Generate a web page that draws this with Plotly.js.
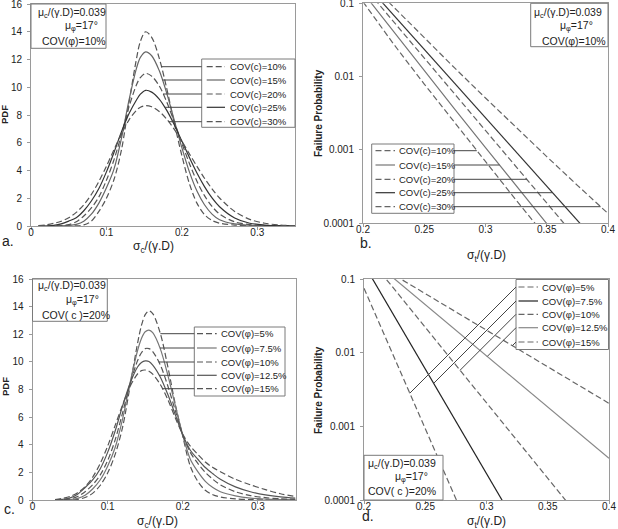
<!DOCTYPE html>
<html>
<head>
<meta charset="utf-8">
<script src="https://cdn.plot.ly/plotly-3.0.1.min.js"></script>
<style>
  html, body { margin: 0; padding: 0; background: #fff; }
  #chart { width: 618px; height: 529px; }
</style>
</head>
<body>
<div id="chart"></div>
<script>
// ---------------- data ----------------
// (a) PDF of sigma_c/(gamma.D) for several COV(c)
const sigmaCA = [0.01,0.02,0.03,0.04,0.05,0.06,0.07,0.08,0.09,0.10,0.11,0.12,0.13,0.14,0.145,0.152,0.16,0.17,0.18,0.19,0.20,0.21,0.22,0.23,0.24,0.25,0.27,0.29,0.31,0.33,0.35];
const pdfCovC10 = [0,0,0,0,0,0.01,0.08,0.35,1.05,2.0,3.35,5.5,8.9,12.1,13.3,14.0,13.6,12.1,9.9,7.4,5.08,3.05,1.65,0.82,0.4,0.2,0.07,0.03,0.01,0,0];
const pdfCovC15 = [0,0,0,0.01,0.04,0.12,0.35,0.85,1.65,2.75,4.1,6.34,9.09,11.4,12.15,12.55,12.27,11.2,9.56,7.61,5.65,3.9,2.52,1.53,0.86,0.45,0.15,0.05,0.02,0,0];
const pdfCovC20 = [0,0,0,0.03,0.1,0.3,0.72,1.3,2.1,3.3,4.77,6.6,8.6,10.2,10.7,11.0,10.8,10.1,8.93,7.5,5.96,4.51,3.22,2.19,1.41,0.86,0.3,0.1,0.03,0.01,0];
const pdfCovC25 = [0,0,0.05,0.15,0.35,0.6,1.1,1.8,2.7,3.9,5.3,6.8,8.1,9.1,9.5,9.78,9.65,9.15,8.33,7.29,6.12,4.94,3.82,2.84,2.02,1.39,0.58,0.2,0.07,0.02,0.01];
const pdfCovC30 = [0.03,0.08,0.19,0.34,0.59,0.98,1.53,2.27,3.21,4.31,5.5,6.66,7.65,8.35,8.56,8.67,8.59,8.25,7.7,6.96,6.11,5.2,4.3,3.44,2.68,2.02,1.05,0.48,0.2,0.07,0.025];
const labelsCovC = ["COV(c)=10%","COV(c)=15%","COV(c)=20%","COV(c)=25%","COV(c)=30%"];

// (b) failure probability vs sigma_t/(gamma.D) for several COV(c)
const sigmaT = [0.2,0.225,0.25,0.275,0.3,0.325,0.35,0.375,0.4];
const pfCovC10 = [0.105,0.0277,0.0079,0.00232,6.87e-4,2.05e-4,6.3e-5,1.9e-5,5.8e-6];
const pfCovC15 = [0.14,0.0407,0.012,0.00357,0.00107,3.24e-4,9.8e-5,2.96e-5,9.0e-6];
const pfCovC20 = [0.175,0.0558,0.0179,0.00571,0.00183,5.85e-4,1.88e-4,6.0e-5,1.95e-5];
const pfCovC25 = [0.202,0.0687,0.0234,0.0080,0.00273,9.3e-4,3.18e-4,1.08e-4,3.7e-5];
const pfCovC30 = [0.233,0.0883,0.0337,0.0130,0.00509,0.00201,8.07e-4,3.27e-4,1.35e-4];

// (c) PDF of sigma_c/(gamma.D) for several COV(phi)
const sigmaCC = [0.03,0.04,0.05,0.06,0.07,0.08,0.09,0.10,0.11,0.12,0.13,0.14,0.145,0.15,0.155,0.16,0.17,0.18,0.19,0.20,0.21,0.22,0.23,0.24,0.25,0.27,0.29,0.31,0.33,0.35];
const pdfCovPhi5   = [0,0,0.01,0.05,0.18,0.48,1.05,1.95,3.3,5.3,8.3,11.4,12.64,13.42,13.69,13.5,12.08,9.68,6.93,4.6,2.45,1.35,0.7,0.38,0.22,0.08,0.03,0.01,0,0];
const pdfCovPhi7_5 = [0,0.005,0.03,0.12,0.35,0.8,1.45,2.45,3.8,5.89,8.53,10.86,11.7,12.18,12.3,12.11,10.96,9.06,6.85,4.7,2.95,2.05,1.35,0.9,0.6,0.3,0.14,0.07,0.035,0.02];
const pdfCovPhi10  = [0,0.02,0.08,0.25,0.6,1.1,1.8,2.85,4.35,6.34,8.43,10.12,10.66,10.96,10.96,10.75,9.79,8.27,6.48,4.7,3.45,2.65,2.0,1.5,1.1,0.6,0.32,0.17,0.09,0.05];
const pdfCovPhi12_5= [0.01,0.05,0.15,0.42,0.9,1.45,2.25,3.45,5.0,6.83,8.47,9.65,9.96,10.07,10.03,9.77,8.91,7.65,6.18,4.7,3.6,2.95,2.35,1.9,1.5,0.95,0.6,0.37,0.22,0.13];
const pdfCovPhi15  = [0.03,0.12,0.26,0.53,0.96,1.65,2.63,3.9,5.4,6.9,8.24,9.14,9.37,9.41,9.32,9.11,8.37,7.28,5.95,4.75,3.9,3.3,2.75,2.35,2.05,1.5,1.1,0.75,0.45,0.25];
const labelsCovPhi = ["COV(φ)=5%","COV(φ)=7.5%","COV(φ)=10%","COV(φ)=12.5%","COV(φ)=15%"];

// (d) failure probability vs sigma_t/(gamma.D) for several COV(phi)
const pfCovPhi5   = [0.075,0.00838,9.33e-4,1.05e-4,1.17e-5,1.3e-6,1.4e-7,1.6e-8,1.8e-9];
const pfCovPhi7_5 = [0.158,0.0308,0.00601,0.001172,2.29e-4,4.46e-5,8.7e-6,1.7e-6,3.3e-7];
const pfCovPhi10  = [0.234,0.0718,0.02208,0.00678,0.002085,6.4e-4,1.968e-4,6.04e-5,1.86e-5];
const pfCovPhi12_5= [0.2226,0.1,0.0449,0.02018,0.00907,0.00407,0.00183,8.22e-4,3.69e-4];
const pfCovPhi15  = [0.1986,0.1122,0.0633,0.0357,0.0202,0.0114,0.00643,0.00363,0.00205];

const logTickVals = [0.0001,0.001,0.01,0.1];
const logTickText = ["0.0001","0.001","0.01","0.1"];

// ---------------- geometry (pixels of the 618x529 page) ----------------
const W = 618, H = 529;
const FONT = 'Liberation Sans, Arial, sans-serif';
const P = {
  a: {xa:'x',  ya:'y',  px:[31,295],   py:[4,226],   xr:[0,0.35],  yr:[0,16],  log:false},
  b: {xa:'x2', ya:'y2', px:[363,608],  py:[3.3,223], xr:[0.2,0.4], yr:[-4,-1], log:true},
  c: {xa:'x3', ya:'y3', px:[32.5,295.5], py:[279,500], xr:[0,0.35], yr:[0,16], log:false},
  d: {xa:'x4', ya:'y4', px:[364,609],  py:[279,500], xr:[0.2,0.4], yr:[-4,-1], log:true}
};
const fx = p => p / W;
const fy = p => 1 - p / H;
function dataToPx(Q, x, y) {
  const xx = Q.px[0] + (x - Q.xr[0]) / (Q.xr[1] - Q.xr[0]) * (Q.px[1] - Q.px[0]);
  const v = Q.log ? Math.log10(y) : y;
  const yy = Q.py[1] - (v - Q.yr[0]) / (Q.yr[1] - Q.yr[0]) * (Q.py[1] - Q.py[0]);
  return [xx, yy];
}
function pxToData(Q, px, py) {
  const x = Q.xr[0] + (px - Q.px[0]) / (Q.px[1] - Q.px[0]) * (Q.xr[1] - Q.xr[0]);
  const v = Q.yr[0] + (Q.py[1] - py) / (Q.py[1] - Q.py[0]) * (Q.yr[1] - Q.yr[0]);
  return [x, Q.log ? Math.pow(10, v) : v];
}
// x where a PDF curve comes down through level y on its right flank
function rightFlankX(xs, ys, level) {
  const k = ys.indexOf(Math.max(...ys));
  for (let i = k; i < ys.length - 1; i++) {
    if (ys[i] >= level && ys[i + 1] < level)
      return xs[i] + (ys[i] - level) / (ys[i] - ys[i + 1]) * (xs[i + 1] - xs[i]);
  }
  return xs[k];
}
// x where a probability curve crosses level y (log interpolation)
function logCrossX(xs, ys, level) {
  const t = Math.log10(level);
  for (let i = 0; i < ys.length - 1; i++) {
    const a = Math.log10(ys[i]), b = Math.log10(ys[i + 1]);
    if (a >= t && b < t) return xs[i] + (a - t) / (a - b) * (xs[i + 1] - xs[i]);
  }
  return xs[xs.length - 1];
}
function logAt(xs, ys, x) {
  for (let i = 0; i < xs.length - 1; i++) {
    if (x >= xs[i] && x <= xs[i + 1]) {
      const a = Math.log10(ys[i]), b = Math.log10(ys[i + 1]);
      return Math.pow(10, a + (x - xs[i]) / (xs[i + 1] - xs[i]) * (b - a));
    }
  }
  return ys[0];
}

// ---------------- styles ----------------
const DASH = '6px,3px';
const stylesA = [
  {color:'#555', dash:DASH}, {color:'#666', dash:'solid'}, {color:'#555', dash:DASH},
  {color:'#333', dash:'solid'}, {color:'#555', dash:DASH}];
const stylesB = [
  {color:'#666', dash:DASH}, {color:'#777', dash:'solid'}, {color:'#666', dash:DASH},
  {color:'#333', dash:'solid'}, {color:'#666', dash:DASH}];
const stylesC = [
  {color:'#555', dash:DASH}, {color:'#777', dash:'solid'}, {color:'#555', dash:DASH},
  {color:'#555', dash:'solid'}, {color:'#555', dash:DASH}];
const stylesD = [
  {color:'#666', dash:DASH}, {color:'#222', dash:'solid'}, {color:'#666', dash:DASH},
  {color:'#888', dash:'solid'}, {color:'#666', dash:DASH}];

// ---------------- traces ----------------
const traces = [];
function addCurves(Q, xs, series, styles, shape) {
  series.forEach((ys, i) => {
    traces.push({
      type:'scatter', mode:'lines', x:xs, y:ys, xaxis:Q.xa, yaxis:Q.ya,
      hoverinfo:'skip',
      line:{color:styles[i].color, dash:styles[i].dash, width:1.2, shape:shape, smoothing:0.9}
    });
  });
}
const seriesA = [pdfCovC10, pdfCovC15, pdfCovC20, pdfCovC25, pdfCovC30];
const seriesB = [pfCovC10, pfCovC15, pfCovC20, pfCovC25, pfCovC30];
const seriesC = [pdfCovPhi5, pdfCovPhi7_5, pdfCovPhi10, pdfCovPhi12_5, pdfCovPhi15];
const seriesD = [pfCovPhi5, pfCovPhi7_5, pfCovPhi10, pfCovPhi12_5, pfCovPhi15];
addCurves(P.a, sigmaCA, seriesA, stylesA, 'spline');
addCurves(P.b, sigmaT, seriesB, stylesB, 'linear');
addCurves(P.c, sigmaCC, seriesC, stylesC, 'spline');
addCurves(P.d, sigmaT, seriesD, stylesD, 'linear');

// ---------------- shapes & annotations ----------------
const shapes = [];
const annotations = [];
const TXT = '#222';
function pline(x0, y0, x1, y1, color, dash, width) {
  shapes.push({type:'line', xref:'paper', yref:'paper', x0:fx(x0), y0:fy(y0), x1:fx(x1), y1:fy(y1),
    line:{color:color, width:width || 1, dash:dash || 'solid'}});
}
function prect(b) {
  shapes.push({type:'rect', xref:'paper', yref:'paper', x0:fx(b[0]), x1:fx(b[2]), y0:fy(b[3]), y1:fy(b[1]),
    line:{color:'#7a7a7a', width:1}, fillcolor:'#fff'});
}
function ptext(x, y, text, size, opts) {
  annotations.push(Object.assign({xref:'paper', yref:'paper', x:fx(x), y:fy(y), text:text, showarrow:false,
    xanchor:'left', yanchor:'middle', font:{family:FONT, size:size, color:TXT}}, opts || {}));
}

// legend blocks with leader lines to their curves
function legendBlock(box, rows, sample, textX, labels, styles) {
  prect(box);
  labels.forEach((lab, i) => {
    pline(sample[0], rows[i], sample[1], rows[i], styles[i].color, styles[i].dash, 1.2);
    ptext(textX, rows[i], lab, 9.5);
  });
}
// (a)
const rowsA = [66.7, 80, 94, 107.3, 121.7];
legendBlock([201.7, 59, 295, 127.3], rowsA, [206.7, 225], 227.7, labelsCovC, stylesA);
rowsA.forEach((r, i) => {
  const lvl = pxToData(P.a, 0, r)[1];
  const end = dataToPx(P.a, rightFlankX(sigmaCA, seriesA[i], lvl), lvl)[0];
  pline(201.7, r, end, r, '#444', 'solid', 1);
});
// (b)
const rowsB = [150.7, 165, 179.3, 192.7, 206.7];
legendBlock([371.7, 144, 454, 213.3], rowsB, [375.5, 395], 397, labelsCovC, stylesB);
rowsB.forEach((r, i) => {
  const lvl = pxToData(P.b, 0, r)[1];
  const end = dataToPx(P.b, logCrossX(sigmaT, seriesB[i], lvl), lvl)[0];
  pline(454, r, end, r, '#444', 'solid', 1);
});
// (c)
const rowsC = [333.7, 348, 362, 375.3, 388.7];
legendBlock([194.3, 327, 285, 396], rowsC, [197, 216.7], 218.5, labelsCovPhi, stylesC);
rowsC.forEach((r, i) => {
  const lvl = pxToData(P.c, 0, r)[1];
  const end = dataToPx(P.c, rightFlankX(sigmaCC, seriesC[i], lvl), lvl)[0];
  pline(194.3, r, end, r, '#444', 'solid', 1);
});
// (d) leaders run down-left at 45 degrees until they meet their curve
const rowsD = [287, 301, 314.3, 327.7, 342];
legendBlock([516, 279.5, 608.5, 349.5], rowsD, [518.5, 538], 540, labelsCovPhi, stylesD);
rowsD.forEach((r, i) => {
  const sx = 516;
  let ex = sx, ey = r;
  for (let t = 0; t < 260; t += 0.25) {
    const px = sx - t, py = r + t;
    const xd = pxToData(P.d, px, 0)[0];
    const cy = dataToPx(P.d, xd, logAt(sigmaT, seriesD[i], xd))[1];
    if (cy <= py) { ex = px; ey = py; break; }
  }
  pline(sx, r, ex, ey, '#444', 'solid', 1);
});

// parameter boxes
function infoBox(box, lines) {
  prect(box);
  lines.forEach(l => ptext(l[1], l[2], l[0], 10.5));
}
const muC = 'μ<sub>c</sub>/(γ.D)=0.039';
const muPhi = 'μ<sub>φ</sub>=17°';
infoBox([31, 4, 106, 48.3],   [[muC, 35.5, 12.5], [muPhi, 63, 26], ['COV(φ)=10%', 40, 41.5]]);
infoBox([530.7, 3.3, 608, 46.7], [[muC, 532, 12.5], [muPhi, 558, 26], ['COV(φ)=10%', 539.7, 41]]);
infoBox([32.5, 279, 107.3, 321.3], [[muC, 36, 286.3], [muPhi, 64, 299.7], ['COV( c )=20%', 40, 315.3]]);
infoBox([364, 455.3, 443, 500],  [[muC, 365.5, 464.5], [muPhi, 393, 476.5], ['COV( c )=20%', 366.3, 491.3]]);

// axis titles
ptext(153, 247, 'σ<sub>c</sub>/(γ.D)', 12, {xanchor:'center'});
ptext(486, 255.5, 'σ<sub>t</sub>/(γ.D)', 12, {xanchor:'center'});
ptext(157, 522, 'σ<sub>c</sub>/(γ.D)', 12, {xanchor:'center'});
ptext(486.5, 522, 'σ<sub>t</sub>/(γ.D)', 12, {xanchor:'center'});
ptext(5, 115, '<b>PDF</b>', 9.5, {xanchor:'center', textangle:-90});
ptext(5, 387, '<b>PDF</b>', 9.5, {xanchor:'center', textangle:-90});
ptext(318, 113, '<b>Failure Probability</b>', 10, {xanchor:'center', textangle:-90});
ptext(318, 390, '<b>Failure Probability</b>', 10, {xanchor:'center', textangle:-90});

// panel letters
ptext(8, 241, 'a.', 14, {xanchor:'center'});
ptext(366, 243, 'b.', 14, {xanchor:'center'});
ptext(9, 509, 'c.', 14, {xanchor:'center'});
ptext(368, 516, 'd.', 14, {xanchor:'center'});

// ---------------- axes ----------------
function axisBase(extra) {
  return Object.assign({
    showline:true, mirror:true, linecolor:'#9a9a9a', linewidth:1,
    showgrid:false, zeroline:false, ticks:'outside', ticklen:3, tickcolor:'#9a9a9a',
    ticklabeloverflow:'allow',
    tickfont:{family:FONT, size:10, color:TXT}, fixedrange:true
  }, extra);
}
function xAxis(Q, anchor, extra) {
  return axisBase(Object.assign({domain:[fx(Q.px[0]), fx(Q.px[1])], range:Q.xr, anchor:anchor,
    ticklabelstandoff:-6}, extra));
}
function yAxis(Q, anchor, extra) {
  return axisBase(Object.assign({domain:[fy(Q.py[1]), fy(Q.py[0])], anchor:anchor,
    ticklabelstandoff:3}, extra));
}
const pdfXTicks = {tickvals:[0,0.1,0.2,0.3], ticktext:['0','0.1','0.2','0.3']};
const pfXTicks = {tickvals:[0.2,0.25,0.3,0.35,0.4], ticktext:['0.2','0.25','0.3','0.35','0.4']};
const pdfY = {range:[0,16], tickvals:[0,2,4,6,8,10,12,14,16]};
const pfY = {type:'log', range:[-4,-1], tickvals:logTickVals, ticktext:logTickText};

const layout = {
  width:W, height:H, margin:{l:0, r:0, t:0, b:0},
  paper_bgcolor:'#fff', plot_bgcolor:'#fff', showlegend:false,
  font:{family:FONT, size:10, color:TXT},
  xaxis:  xAxis(P.a, 'y',  pdfXTicks),
  yaxis:  yAxis(P.a, 'x',  pdfY),
  xaxis2: xAxis(P.b, 'y2', pfXTicks),
  yaxis2: yAxis(P.b, 'x2', pfY),
  xaxis3: xAxis(P.c, 'y3', pdfXTicks),
  yaxis3: yAxis(P.c, 'x3', pdfY),
  xaxis4: xAxis(P.d, 'y4', pfXTicks),
  yaxis4: yAxis(P.d, 'x4', pfY),
  shapes:shapes, annotations:annotations
};

Plotly.newPlot('chart', traces, layout, {staticPlot:true, displayModeBar:false});
</script>
</body>
</html>
